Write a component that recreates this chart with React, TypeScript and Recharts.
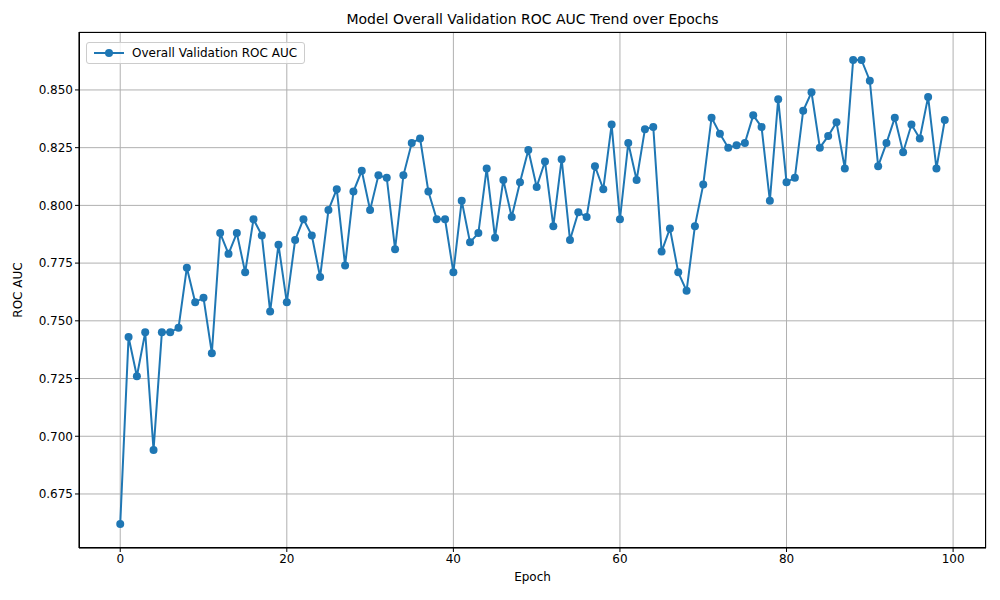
import React from 'react';
import { LineChart, Line, XAxis, YAxis, CartesianGrid } from 'recharts';

const epochs: number[] = Array.from({ length: 100 }, (_, i) => i);
const rocAuc: number[] = [
  0.662, 0.743, 0.726, 0.745, 0.694, 0.745, 0.745, 0.747, 0.773, 0.758,
  0.760, 0.736, 0.788, 0.779, 0.788, 0.771, 0.794, 0.787, 0.754, 0.783,
  0.758, 0.785, 0.794, 0.787, 0.769, 0.798, 0.807, 0.774, 0.806, 0.815,
  0.798, 0.813, 0.812, 0.781, 0.813, 0.827, 0.829, 0.806, 0.794, 0.794,
  0.771, 0.802, 0.784, 0.788, 0.816, 0.786, 0.811, 0.795, 0.810, 0.824,
  0.808, 0.819, 0.791, 0.820, 0.785, 0.797, 0.795, 0.817, 0.807, 0.835,
  0.794, 0.827, 0.811, 0.833, 0.834, 0.780, 0.790, 0.771, 0.763, 0.791,
  0.809, 0.838, 0.831, 0.825, 0.826, 0.827, 0.839, 0.834, 0.802, 0.846,
  0.810, 0.812, 0.841, 0.849, 0.825, 0.830, 0.836, 0.816, 0.863, 0.863,
  0.854, 0.817, 0.827, 0.838, 0.823, 0.835, 0.829, 0.847, 0.816, 0.837,
];
const xTicks: number[] = [0, 20, 40, 60, 80, 100];
const yTicks: number[] = [0.675, 0.7, 0.725, 0.75, 0.775, 0.8, 0.825, 0.85];

const data = epochs.map((e, i) => ({ epoch: e, auc: rocAuc[i] }));
const font = 'DejaVu Sans, sans-serif';
const COLOR = '#1f77b4';

export default function App() {
  return (
    <div style={{ position: 'absolute', left: 0, top: 0, width: 1000, height: 600, background: '#fff' }}>
      <div style={{ position: 'absolute', top: 11, left: 79, width: 907, textAlign: 'center', fontFamily: font, fontSize: 14 }}>
        Model Overall Validation ROC AUC Trend over Epochs
      </div>
      <div style={{ position: 'absolute', top: 570, left: 79, width: 907, textAlign: 'center', fontFamily: font, fontSize: 12 }}>
        Epoch
      </div>
      <div style={{ position: 'absolute', top: 290, left: 18, transform: 'translate(-50%,-50%) rotate(-90deg)', fontFamily: font, fontSize: 12, whiteSpace: 'nowrap' }}>
        ROC AUC
      </div>
      <LineChart width={1000} height={600} data={data} margin={{ top: 32, right: 14, left: 19, bottom: 22 }}>
        <CartesianGrid stroke="#b0b0b0" strokeWidth={1} />
        <XAxis dataKey="epoch" type="number" domain={[-4.95, 103.95]} ticks={xTicks} allowDataOverflow
          tick={{ fontFamily: font, fontSize: 12, fill: '#000' }} stroke="#000" tickSize={4} height={30} />
        <YAxis type="number" domain={[0.6516, 0.8751]} ticks={yTicks} allowDataOverflow
          tickFormatter={(v: number) => v.toFixed(3)}
          tick={{ fontFamily: font, fontSize: 12, fill: '#000' }} stroke="#000" tickSize={4} width={60} />
        <Line dataKey="auc" stroke={COLOR} strokeWidth={2} dot={{ r: 4, fill: COLOR, stroke: COLOR, strokeWidth: 0 }} isAnimationActive={false} />
      </LineChart>
      <div style={{ position: 'absolute', left: 79, top: 32, width: 907, height: 516, border: '1px solid #000', boxSizing: 'border-box', pointerEvents: 'none' }} />
      <div style={{ position: 'absolute', top: 42, left: 86, border: '1px solid #ccc', borderRadius: 3, background: 'rgba(255,255,255,0.8)', padding: '3px 7px', display: 'flex', alignItems: 'center', fontFamily: font, fontSize: 12, color: '#000' }}>
        <svg width={30} height={12} style={{ marginRight: 8 }}>
          <line x1={0} y1={6} x2={30} y2={6} stroke={COLOR} strokeWidth={2} />
          <circle cx={15} cy={6} r={4} fill={COLOR} />
        </svg>
        Overall Validation ROC AUC
      </div>
    </div>
  );
}
